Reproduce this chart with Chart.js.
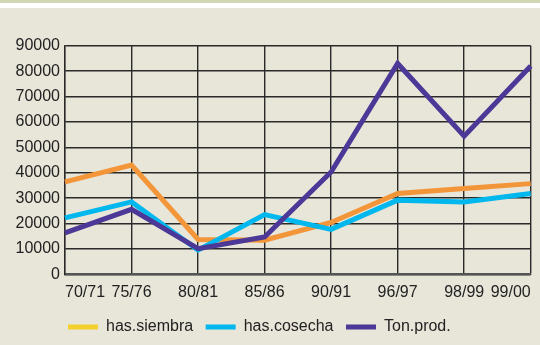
<!DOCTYPE html>
<html>
<head>
<meta charset="utf-8">
<script src="https://cdn.jsdelivr.net/npm/chart.js@4/dist/chart.umd.min.js"></script>
<style>
  html, body { margin: 0; padding: 0; background: #e8e5d9; }
  #wrap { width: 540px; height: 345px; overflow: hidden; background: #e8e5d9; }
  #g { height: 3px; background: #d2d6b4; }
  #w { height: 5px; background: #ffffff; }
  #c { display: block; }
</style>
</head>
<body>
<div id="wrap">
  <div id="g"></div><div id="w"></div>
  <canvas id="c" width="540" height="337"></canvas>
</div>
<script>
const categories = ["70/71", "75/76", "80/81", "85/86", "90/91", "96/97", "98/99", "99/00"];
const hasSiembra = [36400, 43000, 13700, 13400, 20400, 31800, 33800, 35700];
const hasCosecha = [22200, 28500, 9500, 23500, 17700, 29200, 28500, 31800];
const tonProd = [16300, 25600, 10100, 14700, 40300, 83000, 54400, 82000];
const seriesNames = ["has.siembra", "has.cosecha", "Ton.prod."];
const lineColors = ["#f39539", "#00b8ee", "#4b3897"];
const legendColors = ["#f3d02d", "#00b8ee", "#4b3897"];

const FONT = "'Liberation Sans', Arial, Helvetica, sans-serif";

const legendShift = {
  id: 'legendShift',
  afterLayout(chart) {
    const lg = chart.legend;
    if (lg) { lg.left -= 6; lg.right -= 6; }
  }
};

new Chart(document.getElementById('c'), {
  type: 'line',
  data: {
    labels: categories,
    datasets: [
      { label: seriesNames[0], data: hasSiembra, borderColor: lineColors[0], order: 2 },
      { label: seriesNames[1], data: hasCosecha, borderColor: lineColors[1], order: 1 },
      { label: seriesNames[2], data: tonProd, borderColor: lineColors[2], order: 0 }
    ]
  },
  options: {
    responsive: false,
    animation: false,
    devicePixelRatio: 1,
    elements: {
      line: { borderWidth: 5, tension: 0, borderJoinStyle: 'miter', borderCapStyle: 'butt', fill: false },
      point: { radius: 0, hoverRadius: 0 }
    },
    layout: { padding: { top: 37.7, left: 0, right: 9.3, bottom: 0 } },
    plugins: {
      tooltip: { enabled: false },
      legend: {
        position: 'bottom',
        align: 'center',
        labels: {
          font: { family: FONT, size: 16 },
          color: '#222',
          boxWidth: 30,
          boxHeight: 5,
          padding: 12.5,
          sort: (a, b) => a.datasetIndex - b.datasetIndex,
          generateLabels: (chart) => chart.data.datasets.map((ds, i) => ({
            text: ds.label,
            fillStyle: legendColors[i],
            strokeStyle: legendColors[i],
            lineWidth: 0,
            hidden: false,
            datasetIndex: i,
            fontColor: '#222'
          }))
        }
      }
    },
    scales: {
      x: {
        type: 'category',
        offset: false,
        afterFit: (s) => { s.height -= 5; },
        grid: { color: '#2a2a2a', lineWidth: 1.4, drawTicks: false },
        border: { color: '#555', width: 2 },
        ticks: {
          font: { family: FONT, size: 16 },
          color: '#222',
          padding: 9,
          align: 'inner',
          maxRotation: 0,
          autoSkip: false
        }
      },
      y: {
        min: 0,
        max: 90000,
        afterFit: (s) => { s.width = 65; },
        grid: { color: '#2a2a2a', lineWidth: 1.4, drawTicks: false },
        border: { color: '#2a2a2a', width: 1.4 },
        ticks: {
          stepSize: 10000,
          font: { family: FONT, size: 16 },
          color: '#222',
          padding: 5,
          callback: (v) => String(v)
        }
      }
    }
  },
  plugins: [legendShift]
});
</script>
</body>
</html>
